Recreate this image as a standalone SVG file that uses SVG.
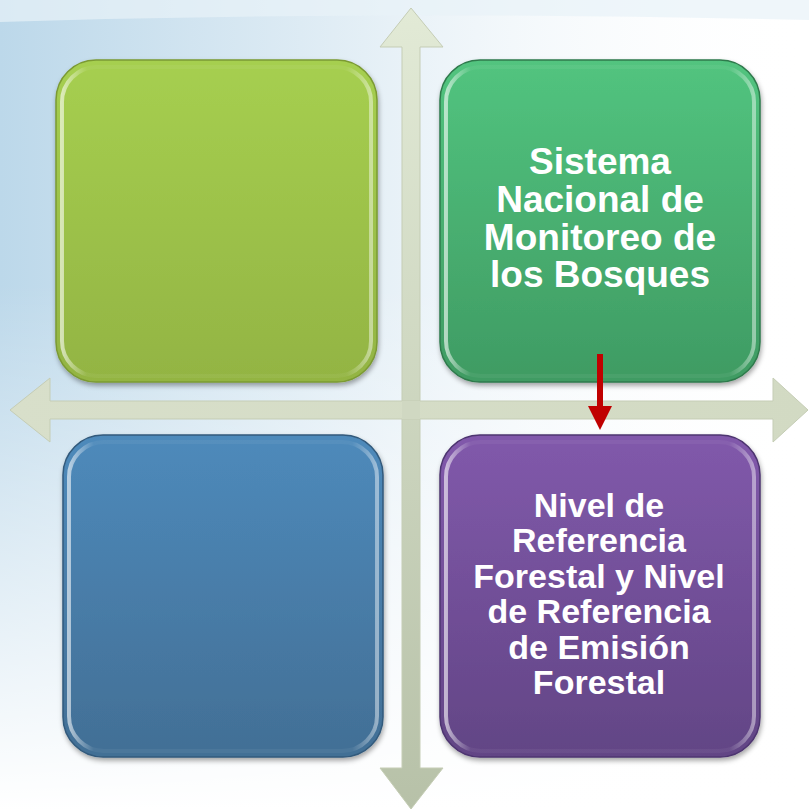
<svg xmlns="http://www.w3.org/2000/svg" width="809" height="810" viewBox="0 0 809 810">
<defs>
<linearGradient id="bgL" x1="0" y1="0" x2="1" y2="0">
<stop offset="0" stop-color="#bcd8ea"/>
<stop offset="0.45" stop-color="#e4eff6"/>
<stop offset="1" stop-color="#ffffff" stop-opacity="0"/>
</linearGradient>
<linearGradient id="bgV" x1="0" y1="0" x2="0" y2="1">
<stop offset="0" stop-color="#ffffff" stop-opacity="0"/>
<stop offset="0.35" stop-color="#ffffff" stop-opacity="0"/>
<stop offset="1" stop-color="#ffffff" stop-opacity="1"/>
</linearGradient>
<linearGradient id="gTL" x1="0" y1="0" x2="0" y2="1"><stop offset="0" stop-color="#a6cf50"/><stop offset="1" stop-color="#93b443"/></linearGradient>
<linearGradient id="gTR" x1="0" y1="0" x2="0" y2="1"><stop offset="0" stop-color="#52c47f"/><stop offset="1" stop-color="#3f9b63"/></linearGradient>
<linearGradient id="gBL" x1="0" y1="0" x2="0" y2="1"><stop offset="0" stop-color="#4e8abb"/><stop offset="1" stop-color="#426f95"/></linearGradient>
<linearGradient id="gBR" x1="0" y1="0" x2="0" y2="1"><stop offset="0" stop-color="#8159ab"/><stop offset="1" stop-color="#624585"/></linearGradient>
<linearGradient id="rimH" x1="0" y1="0" x2="1" y2="0">
<stop offset="0" stop-color="#ffffff" stop-opacity="0.6"/>
<stop offset="0.08" stop-color="#ffffff" stop-opacity="0.05"/>
<stop offset="0.92" stop-color="#ffffff" stop-opacity="0.05"/>
<stop offset="1" stop-color="#ffffff" stop-opacity="0.45"/>
</linearGradient>
<linearGradient id="aV" x1="0" y1="0" x2="0" y2="1"><stop offset="0" stop-color="#e2ead6"/><stop offset="1" stop-color="#b7c1a8"/></linearGradient>
<linearGradient id="aH" x1="0" y1="0" x2="1" y2="0"><stop offset="0" stop-color="#d8dfca"/><stop offset="1" stop-color="#d2dac3"/></linearGradient>
<filter id="sh" x="-10%" y="-10%" width="120%" height="120%">
<feDropShadow dx="1" dy="3" stdDeviation="2.5" flood-color="#000" flood-opacity="0.35"/>
</filter>
</defs>
<style>
.t{font-family:"Liberation Sans",Arial,sans-serif;font-weight:bold;fill:#ffffff;text-anchor:middle}
.rim{fill:none;stroke:url(#rimH);stroke-width:4}
.shade{fill:none;stroke:#000000;stroke-opacity:0.12;stroke-width:3}
</style>
<rect width="809" height="810" fill="#ffffff"/>
<rect width="809" height="810" fill="url(#bgL)"/>
<path d="M0,0 H809 V20 Q400,10 0,22 Z" fill="#e8f2f8" opacity="0.7"/>
<rect width="809" height="810" fill="url(#bgV)"/>

<g id="connectors">
<path d="M402,47 H380 L411,8 L443,47 H420 V768 H443 L411,809 L380,768 H402 Z" fill="url(#aV)" stroke="#c5cdb5" stroke-width="1"/>
<path d="M50,401 V378 L10,410 L50,442 V419 H773 V442 L808,410 L773,378 V401 Z" fill="url(#aH)" stroke="#c5cdb5" stroke-width="1"/>
<rect x="402" y="401" width="18" height="18" fill="#d0d8c2"/>
</g>

<g id="node-tl">
<rect x="56" y="60" width="321" height="322" rx="40" fill="url(#gTL)" stroke="#7b9a33" stroke-width="1.5" filter="url(#sh)"/>
<rect x="62" y="67" width="309" height="309" rx="35" class="rim"/>
</g>
<g id="node-tr">
<rect x="440" y="60" width="320" height="322" rx="40" fill="url(#gTR)" stroke="#2f7a4c" stroke-width="1.5" filter="url(#sh)"/>
<rect x="446" y="67" width="308" height="309" rx="35" class="rim"/>
<text class="t" font-size="37" x="600"><tspan x="600" y="174">Sistema</tspan><tspan x="600" y="212">Nacional de</tspan><tspan x="600" y="250">Monitoreo de</tspan><tspan x="600" y="287">los Bosques</tspan></text>
</g>
<g id="node-bl">
<rect x="63" y="435" width="320" height="322" rx="40" fill="url(#gBL)" stroke="#325a7c" stroke-width="1.5" filter="url(#sh)"/>
<rect x="69" y="442" width="308" height="309" rx="35" class="rim"/>
</g>
<g id="node-br">
<rect x="440" y="435" width="320" height="322" rx="40" fill="url(#gBR)" stroke="#4d3570" stroke-width="1.5" filter="url(#sh)"/>
<rect x="446" y="442" width="308" height="309" rx="35" class="rim"/>
<text class="t" font-size="34" x="599"><tspan x="599" y="517">Nivel de</tspan><tspan x="599" y="552">Referencia</tspan><tspan x="599" y="588">Forestal y Nivel</tspan><tspan x="599" y="623">de Referencia</tspan><tspan x="599" y="659">de Emisión</tspan><tspan x="599" y="694">Forestal</tspan></text>
</g>

<g id="red-arrow">
<path d="M597,354 H603 V406 H612 L600,430 L588,406 H597 Z" fill="#c00000"/>
</g>
</svg>
